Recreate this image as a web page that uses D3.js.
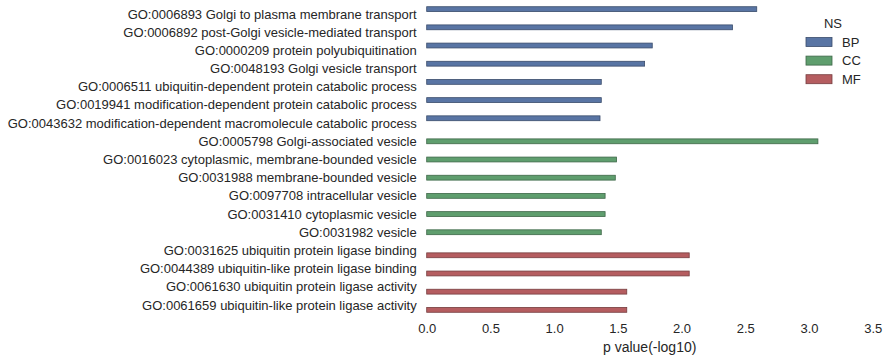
<!DOCTYPE html>
<html>
<head>
<meta charset="utf-8">
<script src="https://cdn.jsdelivr.net/npm/d3@7"></script>
<style>
  body { margin: 0; background: #fff; }
  text { font-family: "Liberation Sans", Arial, sans-serif; fill: #262626; }
</style>
</head>
<body>
<script>
var terms = [
  "GO:0006893 Golgi to plasma membrane transport",
  "GO:0006892 post-Golgi vesicle-mediated transport",
  "GO:0000209 protein polyubiquitination",
  "GO:0048193 Golgi vesicle transport",
  "GO:0006511 ubiquitin-dependent protein catabolic process",
  "GO:0019941 modification-dependent protein catabolic process",
  "GO:0043632 modification-dependent macromolecule catabolic process",
  "GO:0005798 Golgi-associated vesicle",
  "GO:0016023 cytoplasmic, membrane-bounded vesicle",
  "GO:0031988 membrane-bounded vesicle",
  "GO:0097708 intracellular vesicle",
  "GO:0031410 cytoplasmic vesicle",
  "GO:0031982 vesicle",
  "GO:0031625 ubiquitin protein ligase binding",
  "GO:0044389 ubiquitin-like protein ligase binding",
  "GO:0061630 ubiquitin protein ligase activity",
  "GO:0061659 ubiquitin-like protein ligase activity"
];
var ns = ["BP","BP","BP","BP","BP","BP","BP","CC","CC","CC","CC","CC","CC","MF","MF","MF","MF"];
var pvals = [2.59, 2.40, 1.77, 1.71, 1.37, 1.37, 1.36, 3.07, 1.49, 1.48, 1.40, 1.40, 1.37, 2.06, 2.06, 1.57, 1.57];
var groups = ["BP", "CC", "MF"];
var colors = ["#5975a4", "#5f9e6e", "#b55d60"];
var xTicks = [0, 0.5, 1, 1.5, 2, 2.5, 3, 3.5];

var width = 888, height = 362;
var mLeft = 426.7, mRight = 872.7, mTop = 4.9, mBottom = 314.1;

var svg = d3.select("body").append("svg")
  .attr("width", width)
  .attr("height", height);

var x = d3.scaleLinear().domain([0, 3.5]).range([mLeft, mRight]);
var y = d3.scaleBand().domain(terms).range([mTop, mBottom]).padding(0);
// hue dodge like seaborn: 0.8 of the row shared by 3 groups
var yHue = d3.scaleBand().domain(groups)
  .range([y.bandwidth() * 0.1, y.bandwidth() * 0.9]);
var color = d3.scaleOrdinal().domain(groups).range(colors);

var rows = terms.map(function(t, i) { return { term: t, ns: ns[i], p: pvals[i] }; });

svg.selectAll(".bar")
  .data(rows)
  .enter().append("rect")
  .attr("class", "bar")
  .attr("x", x(0))
  .attr("y", function(d) { return y(d.term) + yHue(d.ns); })
  .attr("width", function(d) { return x(d.p) - x(0); })
  .attr("height", yHue.bandwidth())
  .attr("fill", function(d) { return color(d.ns); })
  .attr("stroke", function(d) { return d3.color(color(d.ns)).darker(1.2); })
  .attr("stroke-width", 0.8);

// y labels
svg.selectAll(".ylab")
  .data(terms)
  .enter().append("text")
  .attr("class", "ylab")
  .attr("x", mLeft - 10)
  .attr("y", function(d) { return y(d) + y.bandwidth() / 2; })
  .attr("dy", "0.35em")
  .attr("text-anchor", "end")
  .style("font-size", "13px")
  .text(function(d) { return d; });

// x axis
var xAxis = svg.append("g")
  .attr("transform", "translate(0," + mBottom + ")")
  .call(d3.axisBottom(x).tickValues(xTicks).tickSize(0).tickPadding(10)
    .tickFormat(d3.format(".1f")));
xAxis.select(".domain").remove();
xAxis.selectAll("text")
  .style("font-size", "13px")
  .style("font-family", "Liberation Sans, Arial, sans-serif")
  .attr("fill", "#262626");

svg.append("text")
  .attr("x", (mLeft + mRight) / 2)
  .attr("y", 347)
  .attr("dy", "0.35em")
  .attr("text-anchor", "middle")
  .style("font-size", "14px")
  .text("p value(-log10)");

// legend
var legend = svg.append("g").attr("transform", "translate(806,0)");
legend.append("text")
  .attr("x", 27)
  .attr("y", 23)
  .attr("dy", "0.35em")
  .attr("text-anchor", "middle")
  .style("font-size", "13px")
  .text("NS");
var items = legend.selectAll(".leg")
  .data(groups)
  .enter().append("g")
  .attr("class", "leg")
  .attr("transform", function(d, i) { return "translate(0," + (42 + i * 18.6) + ")"; });
items.append("rect")
  .attr("x", 0)
  .attr("y", -4.5)
  .attr("width", 26)
  .attr("height", 9)
  .attr("fill", function(d) { return color(d); })
  .attr("stroke", function(d) { return d3.color(color(d)).darker(1.2); })
  .attr("stroke-width", 0.8);
items.append("text")
  .attr("x", 36)
  .attr("dy", "0.35em")
  .style("font-size", "13px")
  .text(function(d) { return d; });
</script>
</body>
</html>
